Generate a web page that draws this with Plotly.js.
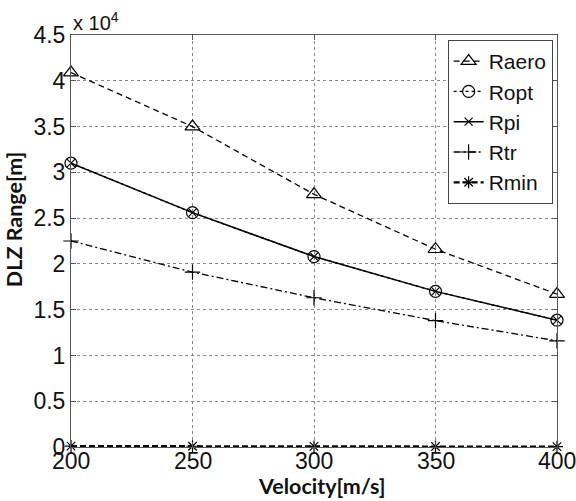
<!DOCTYPE html>
<html>
<head>
<meta charset="utf-8">
<script src="https://cdn.plot.ly/plotly-3.0.1.min.js"></script>
<style>html,body{margin:0;padding:0;background:#fff;}#chart{width:576px;height:501px;}</style>
</head>
<body>
<div id="chart"></div>
<script>
// Velocity [m/s]
const velocity = [200, 250, 300, 350, 400];
// DLZ ranges in units of 10^4 m
const Raero = [4.09, 3.50, 2.76, 2.16, 1.67];
const Ropt  = [3.10, 2.56, 2.08, 1.70, 1.385];
const Rpi   = [3.10, 2.56, 2.08, 1.70, 1.385];
const Rtr   = [2.25, 1.91, 1.63, 1.38, 1.16];
const Rmin  = [0.010, 0.008, 0.006, 0.005, 0.004];
const yTicks = [0, 0.5, 1, 1.5, 2, 2.5, 3, 3.5, 4, 4.5];
const xTicks = [200, 250, 300, 350, 400];

const mk = (name, y, dash, width, symbol, size) => ({
  x: velocity, y: y, name: name, type: 'scatter', mode: 'lines+markers', cliponaxis: false,
  line: {color: '#000', dash: dash, width: width},
  marker: {symbol: symbol, size: size, color: '#000', line: {color: '#000', width: 1.2}}
});

const data = [
  mk('Raero', Raero, '6px,4px', 1.3, 'triangle-up-open', 13),
  mk('Ropt', Ropt, 'dot', 1.3, 'circle-open', 12),
  mk('Rpi', Rpi, 'solid', 1.5, 'x-thin-open', 8),
  mk('Rtr', Rtr, '7px,3px,2px,3px', 1.3, 'cross-thin-open', 11),
  mk('Rmin', Rmin, '6px,3px', 2.2, 'asterisk-open', 10)
];

const tickFont = {family: 'Liberation Sans, Arial, sans-serif', size: 23, color: '#111'};
const titleFont = {family: 'Lato, Open Sans, sans-serif', size: 21.5, color: '#111', weight: 'bold'};

const axisCommon = {
  showline: true, linecolor: '#555', linewidth: 1, mirror: 'ticks',
  ticks: 'inside', ticklen: 5, tickcolor: '#555',
  showgrid: true, gridcolor: '#888', griddash: 'dot', gridwidth: 1,
  zeroline: false, tickfont: tickFont
};

// x tick labels placed as annotations at the axis tick values (closer to the axis, as in the reference)
const xTickLabels = xTicks.map(v => ({
  xref: 'x', yref: 'paper', x: v, y: -0.034, xanchor: 'center', yanchor: 'middle',
  text: String(v), showarrow: false, font: tickFont
}));

const layout = {
  width: 576, height: 501,
  margin: {l: 71, r: 19, t: 35, b: 54},
  paper_bgcolor: '#fff', plot_bgcolor: '#fff',
  showlegend: true,
  xaxis: Object.assign({}, axisCommon, {
    range: [200, 400], tickvals: xTicks, showticklabels: false
  }),
  yaxis: Object.assign({}, axisCommon, {
    range: [0, 4.5], tickvals: yTicks, ticktext: yTicks.map(String)
  }),
  legend: {
    x: 0.991, y: 0.988, xanchor: 'right', yanchor: 'top',
    bgcolor: '#fff', bordercolor: '#444', borderwidth: 1,
    font: {family: 'Liberation Sans, Arial, sans-serif', size: 21, color: '#111'},
    itemwidth: 30, tracegroupgap: 0
  },
  annotations: xTickLabels.concat([
    {xref: 'paper', yref: 'paper', x: 0, y: 1, xanchor: 'left', yanchor: 'bottom',
     text: 'x 10<sup>4</sup>', showarrow: false, yshift: -1,
     font: {family: 'Liberation Sans, Arial, sans-serif', size: 20, color: '#111'}},
    {xref: 'paper', yref: 'paper', x: 0.515, y: -0.0947, xanchor: 'center', yanchor: 'middle',
     text: 'Velocity[m/s]', showarrow: false, font: titleFont},
    {xref: 'paper', yref: 'paper', x: -0.117, y: 0.551, xanchor: 'center', yanchor: 'middle',
     text: 'DLZ Range[m]', textangle: -90, showarrow: false, font: titleFont}
  ])
};

Plotly.newPlot('chart', data, layout, {displayModeBar: false, staticPlot: true});
</script>
</body>
</html>
